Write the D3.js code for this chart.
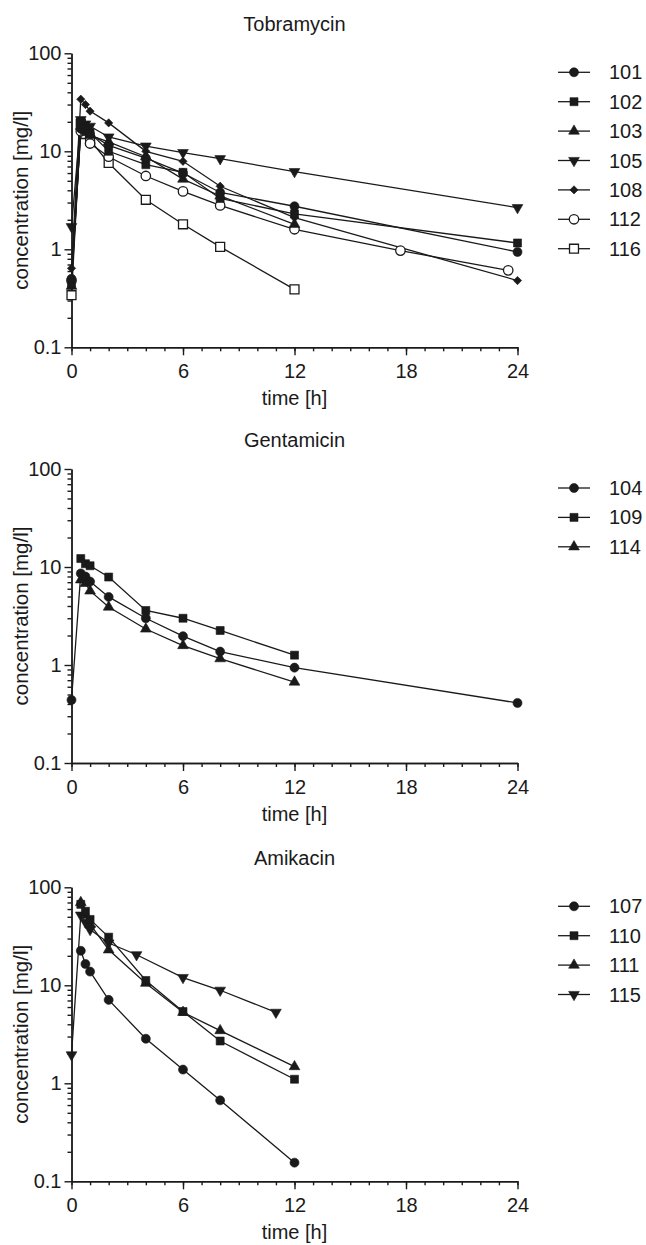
<!DOCTYPE html>
<html>
<head>
<meta charset="utf-8">
<title>Aminoglycoside concentrations</title>
<style>
  body {
    margin: 0;
    background: #fff;
    font-family: Arial, "Liberation Sans", Helvetica, sans-serif;
  }
  .axis text { font-size: 20px; fill: #1a1a1a; font-family: Arial, "Liberation Sans", sans-serif; }
  .axis path, .axis line { stroke: #1a1a1a; stroke-width: 1.4px; }
</style>
</head>
<body>
<script src="https://d3js.org/d3.v7.min.js"></script>
<script>
// sampling times [h]
var stdTimes = [0, 0.5, 0.75, 1, 2, 4, 6, 8, 12, 24];
var stdTimes12 = [0, 0.5, 0.75, 1, 2, 4, 6, 8, 12];
var lateTimes = [0.5, 0.75, 1, 2, 4, 6, 8, 12];
var times112 = [0, 0.5, 1, 2, 4, 6, 8, 12, 17.7, 23.5];
var times115 = [0, 0.5, 0.75, 1, 2, 3.5, 6, 8, 11];

// Tobramycin concentrations [mg/l]
var c101 = [0.5, 17, 16, 15, 11.5, 8.5, 6.0, 3.8, 2.75, 0.94];
var c102 = [0.45, 20, 17, 15.5, 10, 7.3, 6.1, 3.3, 2.3, 1.16];
var c103 = [0.42, 18, 16, 14.5, 12.5, 8.8, 5.2, 3.5, 1.8];
var c105 = [1.7, 21, 19, 18, 14, 11.3, 9.7, 8.4, 6.2, 2.66];
var c108 = [0.64, 34, 30, 25.7, 19.5, 10, 7.9, 4.4, 2.1, 0.48];
var c112 = [0.48, 16, 12, 8.8, 5.6, 3.9, 2.8, 1.6, 0.97, 0.61];
var c116 = [0.34, 19, 15, 13, 7.6, 3.2, 1.8, 1.06, 0.39];

// Gentamicin concentrations [mg/l]
var c104 = [0.44, 8.6, 8.0, 7.1, 4.95, 3.0, 1.97, 1.37, 0.94, 0.41];
var c109 = [12.2, 10.8, 10.3, 7.9, 3.6, 3.0, 2.25, 1.26];
var c114 = [7.4, 6.8, 5.7, 3.9, 2.33, 1.58, 1.16, 0.67];

// Amikacin concentrations [mg/l]
var c107 = [22.5, 16.5, 13.8, 7.1, 2.85, 1.38, 0.67, 0.155];
var c110 = [67, 57, 47, 31, 11.2, 5.4, 2.7, 1.1];
var c111 = [70, 52, 42, 23, 10.5, 5.3, 3.45, 1.48];
var c115 = [1.95, 52, 44, 37, 27, 20.5, 12, 8.9, 5.3];

// ticks
var xMajor = [0, 6, 12, 18, 24];
var xMinor = d3.range(0, 25, 1);
var yMajor = [0.1, 1, 10, 100];
var yMinor = [0.2, 0.3, 0.4, 0.5, 0.6, 0.7, 0.8, 0.9,
              2, 3, 4, 5, 6, 7, 8, 9,
              20, 30, 40, 50, 60, 70, 80, 90];

var panels = [
  {title: 'Tobramycin', top: 53.3, series: [
    {id: '101', shape: 'circle', t: stdTimes, c: c101},
    {id: '102', shape: 'square', t: stdTimes, c: c102},
    {id: '103', shape: 'triangle', t: stdTimes12, c: c103},
    {id: '105', shape: 'triangleDown', t: stdTimes, c: c105},
    {id: '108', shape: 'diamond', t: stdTimes, c: c108},
    {id: '112', shape: 'circleOpen', t: times112, c: c112},
    {id: '116', shape: 'squareOpen', t: stdTimes12, c: c116}
  ]},
  {title: 'Gentamicin', top: 469, series: [
    {id: '104', shape: 'circle', t: stdTimes, c: c104},
    {id: '109', shape: 'square', t: lateTimes, c: c109},
    {id: '114', shape: 'triangle', t: lateTimes, c: c114}
  ]},
  {title: 'Amikacin', top: 887.3, series: [
    {id: '107', shape: 'circle', t: lateTimes, c: c107},
    {id: '110', shape: 'square', t: lateTimes, c: c110},
    {id: '111', shape: 'triangle', t: lateTimes, c: c111},
    {id: '115', shape: 'triangleDown', t: times115, c: c115}
  ]}
];

var width = 646;
var height = 1245;
var plotLeft = 71.5;
var plotRight = 517.5;
var plotHeight = 294;
var ink = '#1a1a1a';

var svg = d3.select('body')
            .append('svg')
            .attr('width', width)
            .attr('height', height);

var x = d3.scaleLinear().domain([0, 24]).range([plotLeft, plotRight]);

// marker shapes
var shapes = {
  circle:       {type: d3.symbolCircle,   size: 64, rot: 0,   fill: ink},
  square:       {type: d3.symbolSquare,   size: 64, rot: 0,   fill: ink},
  triangle:     {type: d3.symbolTriangle, size: 50, rot: 0,   fill: ink},
  triangleDown: {type: d3.symbolTriangle, size: 50, rot: 180, fill: ink},
  diamond:      {type: d3.symbolSquare,   size: 34, rot: 45,  fill: ink},
  circleOpen:   {type: d3.symbolCircle,   size: 70, rot: 0,   fill: '#fff'},
  squareOpen:   {type: d3.symbolSquare,   size: 80, rot: 0,   fill: '#fff'}
};

function drawMarker(sel, shape, px, py) {
  var s = shapes[shape];
  sel.append('path')
     .attr('d', d3.symbol().type(s.type).size(s.size)())
     .attr('transform', 'translate(' + px + ',' + py + ') rotate(' + s.rot + ')')
     .attr('fill', s.fill)
     .attr('stroke', ink)
     .attr('stroke-width', s.fill === '#fff' ? 1.3 : 0.6);
}

panels.forEach(function(p) {
  var y = d3.scaleLog().domain([0.1, 100]).range([p.top + plotHeight, p.top]);
  var g = svg.append('g');

  // title
  g.append('text')
   .attr('x', (plotLeft + plotRight) / 2)
   .attr('y', p.top - 22)
   .attr('text-anchor', 'middle')
   .style('font-size', '20px')
   .attr('fill', ink)
   .text(p.title);

  // axes
  g.append('g')
   .attr('class', 'axis')
   .attr('transform', 'translate(0,' + (p.top + plotHeight) + ')')
   .call(d3.axisBottom(x).tickValues(xMinor).tickSize(4).tickSizeOuter(0).tickFormat(''));
  g.append('g')
   .attr('class', 'axis')
   .attr('transform', 'translate(0,' + (p.top + plotHeight) + ')')
   .call(d3.axisBottom(x).tickValues(xMajor).tickSize(8).tickSizeOuter(0).tickPadding(9)
           .tickFormat(d3.format('d')));

  g.append('g')
   .attr('class', 'axis')
   .attr('transform', 'translate(' + plotLeft + ',0)')
   .call(d3.axisLeft(y).tickValues(yMinor).tickSize(4).tickSizeOuter(0).tickFormat(''));
  g.append('g')
   .attr('class', 'axis')
   .attr('transform', 'translate(' + plotLeft + ',0)')
   .call(d3.axisLeft(y).tickValues(yMajor).tickSize(7).tickSizeOuter(0).tickPadding(3)
           .tickFormat(function(d) { return String(d); }));

  // axis titles
  g.append('text')
   .attr('x', (plotLeft + plotRight) / 2)
   .attr('y', p.top + plotHeight + 58)
   .attr('text-anchor', 'middle')
   .style('font-size', '20px')
   .attr('fill', ink)
   .text('time [h]');

  g.append('text')
   .attr('transform', 'translate(28,' + (p.top + plotHeight / 2) + ') rotate(-90)')
   .attr('text-anchor', 'middle')
   .style('font-size', '20.5px')
   .attr('fill', ink)
   .text('concentration [mg/l]');

  var line = d3.line()
               .x(function(d) { return x(d[0]); })
               .y(function(d) { return y(d[1]); });

  // lines
  p.series.forEach(function(s) {
    var pts = d3.zip(s.t, s.c);
    g.append('path')
     .datum(pts)
     .attr('fill', 'none')
     .attr('stroke', ink)
     .attr('stroke-width', 1.3)
     .attr('d', line);
  });

  // markers, last series first so the filled ones sit on top
  p.series.slice().reverse().forEach(function(s) {
    var pts = d3.zip(s.t, s.c);
    var mg = g.append('g');
    pts.forEach(function(d) {
      drawMarker(mg, s.shape, x(d[0]), y(d[1]));
    });
  });

  // legend
  var leg = g.append('g');
  p.series.forEach(function(s, i) {
    var ly = p.top + 19 + i * 29.4;
    leg.append('line')
       .attr('x1', 558).attr('x2', 590)
       .attr('y1', ly).attr('y2', ly)
       .attr('stroke', ink)
       .attr('stroke-width', 1.3);
    drawMarker(leg, s.shape, 574, ly);
    leg.append('text')
       .attr('x', 609)
       .attr('y', ly)
       .attr('dy', '0.35em')
       .style('font-size', '20px')
       .attr('fill', ink)
       .text(s.id);
  });
});
</script>
</body>
</html>
